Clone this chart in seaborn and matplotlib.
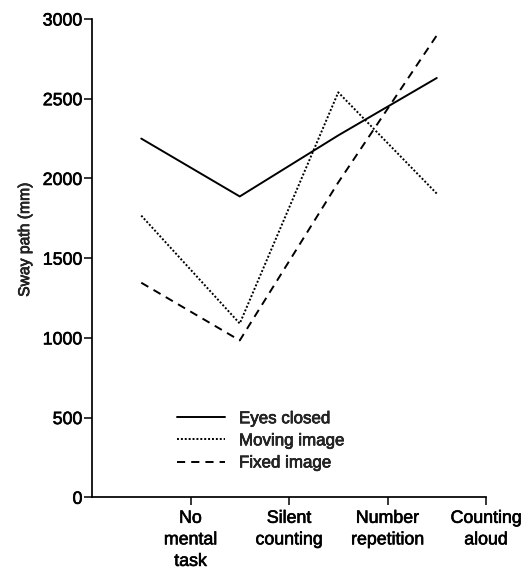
import numpy as np
import pandas as pd
import matplotlib
matplotlib.use("Agg")
import matplotlib.pyplot as plt
import matplotlib.patheffects as pe
import seaborn as sns

# ---- data ----
categories = ["No\nmental\ntask", "Silent\ncounting", "Number\nrepetition", "Counting\naloud"]
series_names = ["Eyes closed", "Moving image", "Fixed image"]
eyes_closed = [2250, 1887, 2270, 2630]
moving_image = [1767, 1090, 2540, 1905]
fixed_image = [1346, 984, 1975, 2897]
y_ticks = [0, 500, 1000, 1500, 2000, 2500, 3000]
y_label = "Sway path (mm)"

values = [eyes_closed, moving_image, fixed_image]
rows = []
for name, vals in zip(series_names, values):
    for i, v in enumerate(vals):
        rows.append({"pos": i + 0.5, "value": v, "series": name})
df = pd.DataFrame(rows)

sns.set_style("ticks")
plt.rcParams["font.family"] = ["Liberation Sans", "DejaVu Sans"]

fig = plt.figure(figsize=(5.3, 5.69), dpi=100)
ax = fig.add_axes([0.1736, 0.126, 0.7434, 0.8406])

sns.lineplot(
    data=df, x="pos", y="value", style="series", style_order=series_names,
    dashes={"Eyes closed": "", "Moving image": (1, 1), "Fixed image": (4.2, 3.1)},
    color="black", linewidth=1.4, legend=False, ax=ax, sort=False,
)

ax.set_xlim(0, 4)
ax.set_ylim(0, 3000)
ax.set_xticks(np.arange(1, len(categories) + 1))
ax.set_xticklabels(categories, fontsize=12.8, linespacing=1.35)
ax.set_yticks(y_ticks)
ax.set_yticklabels([str(t) for t in y_ticks], fontsize=12.8)
ax.set_xlabel("")
ax.set_ylabel(y_label, fontsize=11.3)
ax.yaxis.set_label_coords(-0.152, 0.539)

sns.despine(ax=ax)
for s in ["left", "bottom"]:
    ax.spines[s].set_linewidth(1.25)
    ax.spines[s].set_color("black")
ax.tick_params(axis="both", direction="out", length=6, width=1.1, colors="black")
ax.tick_params(axis="y", pad=0.8)
ax.tick_params(axis="x", pad=3)

leg = ax.legend(
    handles=list(ax.lines), labels=series_names,
    loc="upper left", bbox_to_anchor=(0.216, 0.180), frameon=False,
    borderpad=0, borderaxespad=0, handlelength=2.85, handletextpad=0.8,
    labelspacing=0.42, fontsize=12.2,
)

# slightly heavier text, like the scanned original
thick = [pe.withStroke(linewidth=0.45, foreground="black")]
for t in ax.get_xticklabels() + ax.get_yticklabels() + leg.get_texts() + [ax.yaxis.label]:
    t.set_path_effects(thick)

fig.savefig("out.png", dpi=100)
